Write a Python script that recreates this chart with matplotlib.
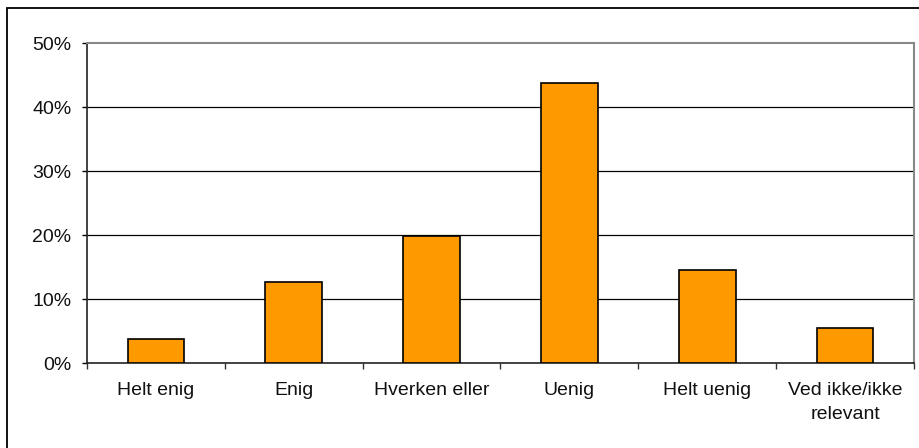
import numpy as np
import matplotlib.pyplot as plt
from matplotlib.patches import Rectangle
from matplotlib.ticker import FuncFormatter

categories = ["Helt enig", "Enig", "Hverken eller", "Uenig", "Helt uenig", "Ved ikke/ikke\nrelevant"]
shares = [3.7, 12.7, 19.9, 43.7, 14.6, 5.5]  # percent of respondents
yticks = [0, 10, 20, 30, 40, 50]

plt.rcParams['font.family'] = ['Liberation Sans', 'DejaVu Sans']
plt.rcParams['font.size'] = 14

fig = plt.figure(figsize=(9.2, 4.48), dpi=100)
fig.patch.set_facecolor("white")

# outer frame, open at right and bottom
fig.add_artist(Rectangle((7 / 920, -0.1), 1.2, (448 - 8) / 448 + 0.1,
                         transform=fig.transFigure, fill=False,
                         edgecolor="black", linewidth=1.3))

ax = fig.add_axes([87 / 920, (448 - 363) / 448, (914 - 87) / 920, (363 - 43) / 448])
x = np.arange(len(categories))
ax.bar(x, shares, width=0.41, color="#FF9900", edgecolor="black", linewidth=1.2, zorder=3)

ax.set_xlim(-0.5, len(categories) - 0.5)
ax.set_ylim(0, 50)
ax.set_yticks(yticks)
ax.yaxis.set_major_formatter(FuncFormatter(lambda v, p: f"{v:.0f}%"))
for t in yticks[1:-1]:
    ax.axhline(t, color="black", linewidth=0.9, zorder=1)

ax.set_xticks(x)
ax.set_xticklabels(categories, linespacing=1.5, color="#111111")
ax.set_xticks(np.arange(len(categories) + 1) - 0.5, minor=True)
ax.tick_params(axis="x", which="major", length=0, pad=14)
ax.tick_params(axis="x", which="minor", length=4.3, width=1, color="#333333")
ax.tick_params(axis="y", length=3.6, width=1, pad=7.5, labelcolor="#111111")

for side in ["top", "right"]:
    ax.spines[side].set_color("#888888")
    ax.spines[side].set_linewidth(1.5)
for side in ["left", "bottom"]:
    ax.spines[side].set_color("#222222")
    ax.spines[side].set_linewidth(1.2)

fig.savefig("out.png", dpi=100)
